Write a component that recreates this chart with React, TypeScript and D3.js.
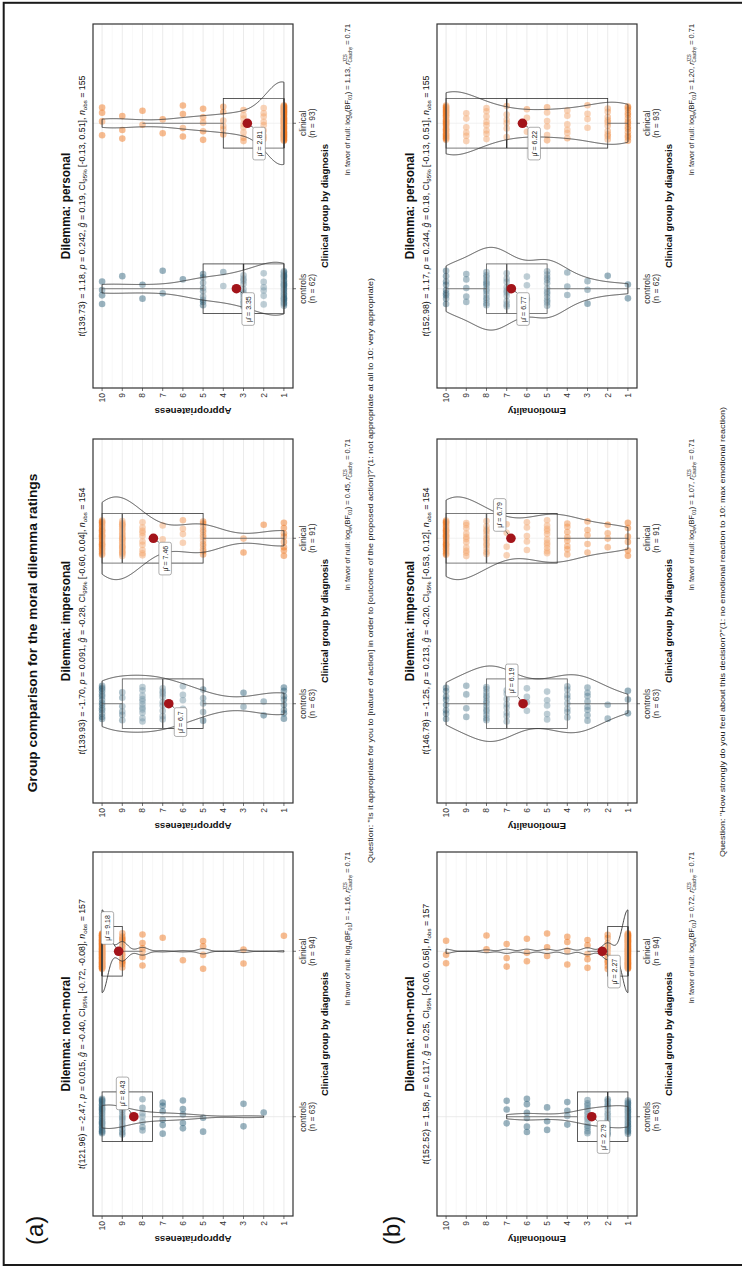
import React, { useEffect, useRef } from "react";
import * as d3 from "d3";

// ratings scale and groups
const ratings = [1, 2, 3, 4, 5, 6, 7, 8, 9, 10];
const groups = ["controls", "clinical"];
const dilemmas = ["non-moral", "impersonal", "personal"];

// number of participants giving each rating 1..10 (read from the dot clouds)
const apprNonMoralControls = [0, 1, 2, 0, 2, 5, 6, 7, 15, 25];
const apprNonMoralClinical = [1, 0, 2, 0, 4, 1, 1, 6, 15, 64];
const apprImpersonalControls = [8, 2, 2, 0, 5, 6, 9, 11, 6, 14];
const apprImpersonalClinical = [8, 1, 2, 0, 13, 4, 3, 10, 25, 25];
const apprPersonalControls = [24, 6, 11, 2, 9, 1, 2, 2, 1, 4];
const apprPersonalClinical = [51, 8, 8, 6, 5, 4, 2, 2, 3, 4];

const emoNonMoralControls = [20, 14, 13, 4, 3, 6, 3, 0, 0, 0];
const emoNonMoralClinical = [59, 12, 5, 4, 3, 3, 3, 2, 0, 3];
const emoImpersonalControls = [3, 2, 8, 8, 5, 4, 8, 13, 4, 8];
const emoImpersonalClinical = [6, 4, 5, 8, 11, 5, 4, 12, 11, 25];
const emoPersonalControls = [2, 1, 3, 3, 12, 3, 10, 14, 5, 9];
const emoPersonalClinical = [14, 10, 4, 6, 6, 3, 6, 8, 6, 30];

// reported means
const apprMeanControls = [8.43, 6.7, 3.35];
const apprMeanClinical = [9.18, 7.46, 2.81];
const emoMeanControls = [2.79, 6.19, 6.77];
const emoMeanClinical = [2.27, 6.79, 6.22];

// test statistics
const apprDf = ["121.96", "139.93", "139.73"];
const apprT = ["-2.47", "-1.70", "1.18"];
const apprP = ["0.015", "0.091", "0.242"];
const apprG = ["-0.40", "-0.28", "0.19"];
const apprCiLow = ["-0.72", "-0.60", "-0.13"];
const apprCiHigh = ["-0.08", "0.04", "0.51"];
const apprNobs = ["157", "154", "155"];
const apprLogBF = ["-1.16", "0.45", "1.13"];

const emoDf = ["152.52", "146.78", "152.98"];
const emoT = ["1.58", "-1.25", "1.17"];
const emoP = ["0.117", "0.213", "0.244"];
const emoG = ["0.25", "-0.20", "0.18"];
const emoCiLow = ["-0.06", "-0.53", "-0.13"];
const emoCiHigh = ["0.56", "0.12", "0.51"];
const emoNobs = ["157", "154", "155"];
const emoLogBF = ["0.72", "1.07", "1.20"];
const rCauchy = "0.71";

const apprLabelSide = ["up", "down", "down"];
const emoLabelSide = ["down", "up", "down"];

const mainTitle = "Group comparison for the moral dilemma ratings";
const questionAppr =
  'Question: "Is it appropriate for you to [nature of action] in order to [outcome of the proposed action]?"(1: not appropriate at all to 10: very appropriate)';
const questionEmo =
  'Question: "How strongly do you feel about this decision?"(1: no emotional reaction to 10: max emotional reaction)';

// layout (landscape page, rotated onto the portrait canvas)
const LW = 1266;
const FONT = "'Liberation Sans', Arial, Helvetica, sans-serif";
const panelLeft = [50, 463, 878];
const panelTop = [93, 437];
const PW = 364;
const PH = 200;
const groupColor = ["#35677f", "#f07a24"];

type Part = [string, string?];

function rich(sel: any, parts: Part[], size: number) {
  let shift = 0;
  parts.forEach(([txt, style]) => {
    const t = sel.append("tspan").text(txt);
    const want = style === "sub" ? size * 0.28 : 0;
    if (want !== shift) t.attr("dy", want - shift);
    shift = want;
    if (style === "i") t.attr("font-style", "italic");
    if (style === "sub") t.attr("font-size", size * 0.7);
  });
}

function kde(vals: number[], lo: number, hi: number) {
  const n = vals.length;
  const sd = d3.deviation(vals) || 0;
  const iqr = (d3.quantile(vals, 0.75) || 0) - (d3.quantile(vals, 0.25) || 0);
  let s = Math.min(sd, iqr / 1.34);
  if (!s) s = sd || Math.abs(vals[0]) || 1;
  const bw = 0.9 * s * Math.pow(n, -0.2);
  return d3.range(512).map((i) => {
    const v = lo + ((hi - lo) * i) / 511;
    const dens =
      (d3.mean(vals, (x) => Math.exp(-0.5 * ((v - x) / bw) ** 2)) || 0) /
      (bw * Math.sqrt(2 * Math.PI));
    return [v, dens] as [number, number];
  });
}

function drawPanel(root: any, p: any) {
  const x = d3.scalePoint<string>().domain(groups).range([p.left, p.left + PW]).padding(0.6);
  const [lo, hi] = d3.extent(ratings) as [number, number];
  const pad = (hi - lo) * 0.05;
  const y = d3.scaleLinear().domain([lo - pad, hi + pad]).range([p.top + PH, p.top]);
  const step = x.step();
  const g = root.append("g");

  // grid
  g.selectAll(".minor")
    .data(d3.range(lo + 0.5, hi, 1))
    .join("line")
    .attr("x1", p.left).attr("x2", p.left + PW)
    .attr("y1", (d: number) => y(d)).attr("y2", (d: number) => y(d))
    .attr("stroke", "#f1f1f1").attr("stroke-width", 0.5);
  g.selectAll(".major")
    .data(ratings)
    .join("line")
    .attr("x1", p.left).attr("x2", p.left + PW)
    .attr("y1", (d: number) => y(d)).attr("y2", (d: number) => y(d))
    .attr("stroke", "#e2e2e2").attr("stroke-width", 0.7);
  g.selectAll(".cgrid")
    .data(groups)
    .join("line")
    .attr("x1", (d: string) => x(d)).attr("x2", (d: string) => x(d))
    .attr("y1", p.top).attr("y2", p.top + PH)
    .attr("stroke", "#e2e2e2").attr("stroke-width", 0.7);

  const series = [p.controls, p.clinical].map((counts: number[]) =>
    counts.flatMap((c, i) => d3.range(c).map(() => ratings[i]))
  );
  const means = [p.meanControls, p.meanClinical];
  const jit = 0.11 * step;

  // jittered points
  series.forEach((vals: number[], gi: number) => {
    const cx = x(groups[gi]) as number;
    g.append("g")
      .selectAll("circle")
      .data(vals)
      .join("circle")
      .attr("cx", (_: number, k: number) => cx + ((((k + 1) * 0.6180339887 + gi * 0.31) % 1) - 0.5) * 2 * jit)
      .attr("cy", (d: number) => y(d))
      .attr("r", 3.3)
      .attr("fill", groupColor[gi])
      .attr("fill-opacity", 0.5);
  });

  // boxplots
  series.forEach((vals: number[], gi: number) => {
    const cx = x(groups[gi]) as number;
    const q1 = d3.quantile(vals, 0.25) as number;
    const med = d3.quantile(vals, 0.5) as number;
    const q3 = d3.quantile(vals, 0.75) as number;
    const iqr = q3 - q1;
    const wLo = d3.min(vals.filter((v) => v >= q1 - 1.5 * iqr)) as number;
    const wHi = d3.max(vals.filter((v) => v <= q3 + 1.5 * iqr)) as number;
    const hw = (0.3 * step) / 2;
    const bg = g.append("g").attr("stroke", "#333").attr("stroke-width", 0.8);
    bg.append("line").attr("x1", cx).attr("x2", cx).attr("y1", y(q3)).attr("y2", y(wHi));
    bg.append("line").attr("x1", cx).attr("x2", cx).attr("y1", y(q1)).attr("y2", y(wLo));
    bg.append("rect")
      .attr("x", cx - hw).attr("width", 2 * hw)
      .attr("y", y(q3)).attr("height", y(q1) - y(q3))
      .attr("fill", "#fff").attr("fill-opacity", 0.2);
    bg.append("line")
      .attr("x1", cx - hw).attr("x2", cx + hw)
      .attr("y1", y(med)).attr("y2", y(med))
      .attr("stroke-width", 1.4);
  });

  // violins (scale = "area")
  const dens = series.map((vals: number[]) => kde(vals, d3.min(vals) as number, d3.max(vals) as number));
  const maxD = d3.max(dens.flat(), (d: [number, number]) => d[1]) as number;
  dens.forEach((dd: [number, number][], gi: number) => {
    const cx = x(groups[gi]) as number;
    const half = (d: [number, number]) => (d[1] / maxD) * 0.25 * step;
    const area = d3
      .area<[number, number]>()
      .y((d) => y(d[0]))
      .x0((d) => cx - half(d))
      .x1((d) => cx + half(d));
    g.append("path")
      .attr("d", area(dd))
      .attr("fill", "#fff").attr("fill-opacity", 0.2)
      .attr("stroke", "#333").attr("stroke-width", 0.9);
  });

  // means with labels
  means.forEach((m: number, gi: number) => {
    const cx = x(groups[gi]) as number;
    const cy = y(m);
    const lg = g.append("g");
    const seg = lg.append("line").attr("stroke", "#222").attr("stroke-width", 0.7);
    g.append("circle").attr("cx", cx).attr("cy", cy).attr("r", 4.8).attr("fill", "#a3141a");
    const rect = lg.append("rect").attr("rx", 2).attr("fill", "#fff").attr("stroke", "#777").attr("stroke-width", 0.6);
    const txt = lg.append("text").attr("font-size", 7).attr("fill", "#222").text("\u03bc\u0302 = " + m);
    const tw = (txt.node() as SVGTextElement).getComputedTextLength();
    const bw = tw + 7;
    const bh = 12.5;
    let rx: number, ry: number, sx: number, sy: number;
    if (p.labelSide === "up") {
      rx = cx + 7; ry = cy - 5 - bh; sx = rx; sy = ry + bh;
    } else {
      rx = cx - 4 - bw; ry = cy + 5.5; sx = rx + bw; sy = ry;
    }
    rect.attr("x", rx).attr("y", ry).attr("width", bw).attr("height", bh);
    txt.attr("x", rx + 3.5).attr("y", ry + bh / 2 + 2.6);
    seg.attr("x1", cx).attr("y1", cy).attr("x2", sx).attr("y2", sy);
  });

  // panel border
  g.append("rect")
    .attr("x", p.left).attr("y", p.top).attr("width", PW).attr("height", PH)
    .attr("fill", "none").attr("stroke", "#333").attr("stroke-width", 1.2);

  // y axis
  const ya = g.append("g").attr("font-size", 8.5).attr("fill", "#333");
  ratings.forEach((r) => {
    ya.append("line").attr("x1", p.left - 3).attr("x2", p.left).attr("y1", y(r)).attr("y2", y(r)).attr("stroke", "#333").attr("stroke-width", 0.7);
    ya.append("text").attr("x", p.left - 5).attr("y", y(r)).attr("dy", "0.35em").attr("text-anchor", "end").text(r);
  });
  g.append("text")
    .attr("transform", `translate(${p.left - 20},${p.top + PH / 2}) rotate(-90)`)
    .attr("text-anchor", "middle").attr("font-size", 9.7).attr("font-weight", "bold").attr("fill", "#111")
    .text(p.yTitle);

  // x axis
  groups.forEach((grp, gi) => {
    const cx = x(grp) as number;
    g.append("line").attr("x1", cx).attr("x2", cx).attr("y1", p.top + PH).attr("y2", p.top + PH + 3).attr("stroke", "#333").attr("stroke-width", 0.7);
    const t = g.append("text").attr("text-anchor", "middle").attr("font-size", 8.5).attr("fill", "#333");
    t.append("tspan").attr("x", cx).attr("y", p.top + PH + 12.5).text(grp);
    t.append("tspan").attr("x", cx).attr("y", p.top + PH + 22).text(`(n = ${series[gi].length})`);
  });
  g.append("text")
    .attr("x", p.left + PW / 2).attr("y", p.top + PH + 35)
    .attr("text-anchor", "middle").attr("font-size", 9.5).attr("font-weight", "bold").attr("fill", "#111")
    .text("Clinical group by diagnosis");

  // titles
  g.append("text")
    .attr("x", p.left + PW / 2).attr("y", p.top - 23)
    .attr("text-anchor", "middle").attr("font-size", 11.9).attr("font-weight", "bold").attr("fill", "#111")
    .text("Dilemma: " + p.dilemma);
  const sub = g.append("text")
    .attr("x", p.left + PW / 2).attr("y", p.top - 8.5)
    .attr("text-anchor", "middle").attr("font-size", 8.8).attr("fill", "#111");
  rich(sub, [
    ["t", "i"], [`(${p.df}) = ${p.t}, `], ["p", "i"], [` = ${p.p}, `], ["g\u0302", "i"],
    [` = ${p.g}, CI`], ["95%", "sub"], [` [${p.ciLow}, ${p.ciHigh}], `], ["n", "i"], ["obs", "sub"], [` = ${p.nobs}`],
  ], 8.8);

  // caption
  const cap = g.append("text")
    .attr("x", p.left + PW).attr("y", p.top + PH + 56.5)
    .attr("text-anchor", "end").attr("font-size", 7.4).attr("fill", "#222");
  cap.append("tspan").text("In favor of null: log");
  cap.append("tspan").attr("font-size", 5.2).attr("dy", 2).text("e");
  cap.append("tspan").attr("dy", -2).text("(BF");
  cap.append("tspan").attr("font-size", 5.2).attr("dy", 2).text("01");
  cap.append("tspan").attr("dy", -2).text(`) = ${p.logBF}, `);
  cap.append("tspan").attr("font-style", "italic").text("r");
  const sup = cap.append("tspan").attr("font-size", 4.6).attr("dy", -3).text("JZS");
  const cau = cap.append("tspan").attr("font-size", 4.6).attr("dy", 5.2).text("Cauchy");
  cap.append("tspan").attr("dy", -2.2).text(` = ${rCauchy}`);
  const supW = (sup.node() as SVGTextContentElement).getComputedTextLength();
  cau.attr("dx", -supW);
}

export default function App() {
  const ref = useRef<SVGSVGElement>(null);

  useEffect(() => {
    if (!ref.current) return;
    const svg = d3.select(ref.current);
    svg.selectAll("*").remove();
    svg.append("rect").attr("width", 742).attr("height", 1266).attr("fill", "#fff");

    const root = svg
      .append("g")
      .attr("transform", `translate(0,${LW}) rotate(-90)`)
      .style("font-family", FONT);

    root.append("text")
      .attr("x", LW / 2).attr("y", 37)
      .attr("text-anchor", "middle").attr("font-size", 13.7).attr("font-weight", "bold").attr("fill", "#111")
      .text(mainTitle);

    root.append("text").attr("x", 21).attr("y", 43).attr("font-size", 24).attr("fill", "#111").text("(a)");
    root.append("text").attr("x", 21).attr("y", 400).attr("font-size", 24).attr("fill", "#111").text("(b)");

    const appr = [
      [apprNonMoralControls, apprNonMoralClinical],
      [apprImpersonalControls, apprImpersonalClinical],
      [apprPersonalControls, apprPersonalClinical],
    ];
    const emo = [
      [emoNonMoralControls, emoNonMoralClinical],
      [emoImpersonalControls, emoImpersonalClinical],
      [emoPersonalControls, emoPersonalClinical],
    ];

    dilemmas.forEach((dil, i) => {
      drawPanel(root, {
        left: panelLeft[i], top: panelTop[0], dilemma: dil, yTitle: "Appropriateness",
        controls: appr[i][0], clinical: appr[i][1],
        meanControls: apprMeanControls[i], meanClinical: apprMeanClinical[i],
        df: apprDf[i], t: apprT[i], p: apprP[i], g: apprG[i],
        ciLow: apprCiLow[i], ciHigh: apprCiHigh[i], nobs: apprNobs[i], logBF: apprLogBF[i],
        labelSide: apprLabelSide[i],
      });
      drawPanel(root, {
        left: panelLeft[i], top: panelTop[1], dilemma: dil, yTitle: "Emotionality",
        controls: emo[i][0], clinical: emo[i][1],
        meanControls: emoMeanControls[i], meanClinical: emoMeanClinical[i],
        df: emoDf[i], t: emoT[i], p: emoP[i], g: emoG[i],
        ciLow: emoCiLow[i], ciHigh: emoCiHigh[i], nobs: emoNobs[i], logBF: emoLogBF[i],
        labelSide: emoLabelSide[i],
      });
    });

    root.append("text")
      .attr("x", 403).attr("y", 372.5).attr("font-size", 7.8).attr("fill", "#222")
      .attr("textLength", 585).attr("lengthAdjust", "spacingAndGlyphs")
      .text(questionAppr);
    root.append("text")
      .attr("x", 409).attr("y", 725).attr("font-size", 7.8).attr("fill", "#222")
      .attr("textLength", 450).attr("lengthAdjust", "spacingAndGlyphs")
      .text(questionEmo);

    // outer frame
    svg.append("rect")
      .attr("x", 3.7).attr("y", 2.8).attr("width", 800).attr("height", 1262.2)
      .attr("fill", "none").attr("stroke", "#1a1a1a").attr("stroke-width", 2);
  }, []);

  return (
    <svg
      ref={ref}
      width={742}
      height={1266}
      style={{ position: "absolute", left: 0, top: 0, display: "block" }}
    />
  );
}
